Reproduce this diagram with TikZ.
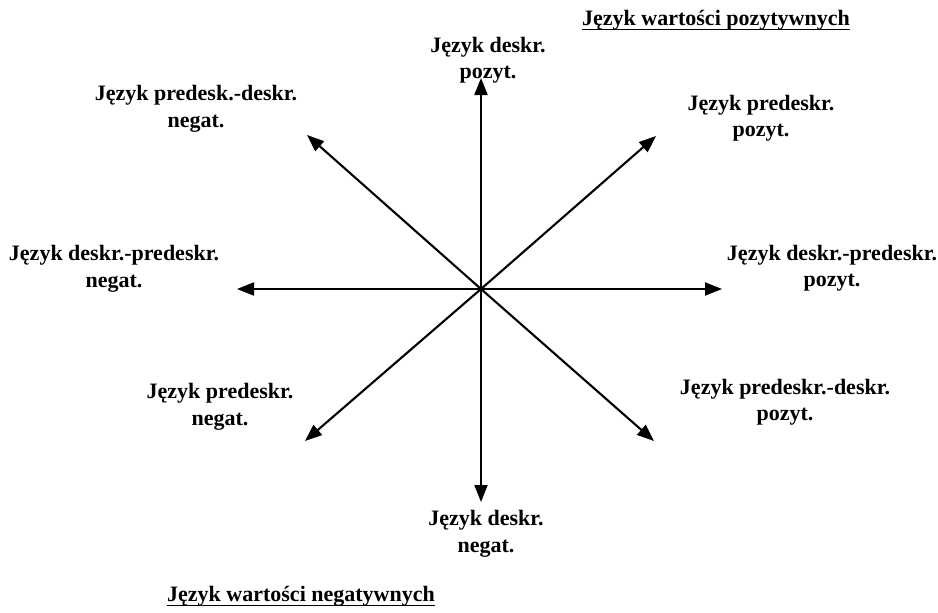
\documentclass[tikz,border=0pt]{standalone}
\usepackage{fontspec}
\setmainfont{Liberation Serif}
\usetikzlibrary{arrows.meta}
\begin{document}
\begin{tikzpicture}[x=1pt,y=-1pt,
  lab/.style={font=\bfseries\fontsize{22}{26.5}\selectfont, align=center, inner sep=0pt},
  ttl/.style={font=\bfseries\fontsize{22}{26}\selectfont, inner sep=0pt},
  uline/.style={line width=1.5pt},
  arr/.style={line width=2.1pt, -{Triangle[length=17pt,width=13pt]}}]
\useasboundingbox (0,0) rectangle (938,613);
\fill[white] (0,0) rectangle (938,613);
\coordinate (c) at (481,289);
\coordinate (tu) at (481,78);
\coordinate (td) at (481,502);
\coordinate (tl) at (237,289);
\coordinate (tr) at (722,289);
\coordinate (tul) at (307,135);
\coordinate (tur) at (656,136);
\coordinate (tdl) at (305,441);
\coordinate (tdr) at (654,441);
\foreach \t in {tu,td,tl,tr,tul,tur,tdl,tdr} \draw[arr] (c) -- (\t);
\node[lab] (nu) at (488,60) {Język deskr.\\pozyt.};
\node[lab] (nd) at (486,534) {Język deskr.\\negat.};
\node[lab] (nl) at (114,269) {Język deskr.-predeskr.\\negat.};
\node[lab] (nr) at (832,268) {Język deskr.-predeskr.\\pozyt.};
\node[lab] (nul) at (196,109) {Język predesk.-deskr.\\negat.};
\node[lab] (nur) at (761,118) {Język predeskr.\\pozyt.};
\node[lab] (ndl) at (220,407) {Język predeskr.\\negat.};
\node[lab] (ndr) at (785,402) {Język predeskr.-deskr.\\pozyt.};
\node[ttl, anchor=base] (tp) at (716,25) {Język wartości pozytywnych};
\draw[uline] ([yshift=-4.5pt]tp.base west) -- ([yshift=-4.5pt]tp.base east);
\node[ttl, anchor=base] (tn) at (301,601) {Język wartości negatywnych};
\draw[uline] ([yshift=-4.5pt]tn.base west) -- ([yshift=-4.5pt]tn.base east);
\end{tikzpicture}
\end{document}
